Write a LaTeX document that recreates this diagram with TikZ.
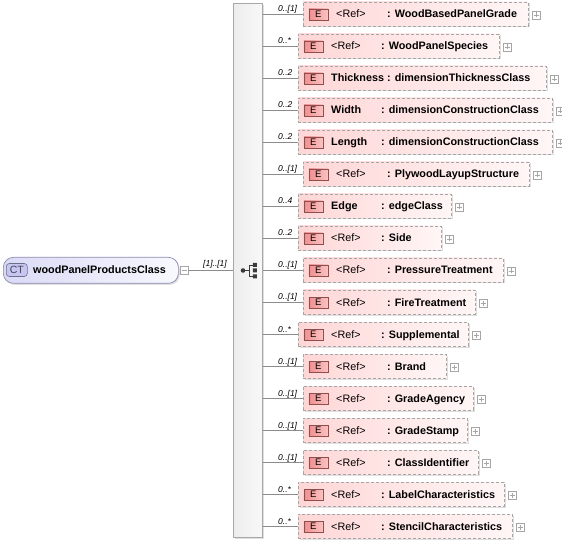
\documentclass[tikz,border=0pt]{standalone}
\usepackage{fontspec}
\setmainfont{Liberation Sans}
\usetikzlibrary{shadows}
\definecolor{connc}{HTML}{8C8C8C}
\definecolor{elborder}{HTML}{A6A6A6}
\definecolor{elleft}{HTML}{FFD6D6}
\definecolor{elright}{HTML}{FFF6F6}
\definecolor{eleft}{HTML}{F08E8E}
\definecolor{eright}{HTML}{FBC2C2}
\definecolor{eborder}{HTML}{8E4E4E}
\definecolor{ctleft}{HTML}{DADAF6}
\definecolor{ctright}{HTML}{F8F8FE}
\definecolor{ctin}{HTML}{C6C6F0}
\definecolor{ctborder}{HTML}{8A8AB0}
\definecolor{seqleft}{HTML}{EDEDED}
\definecolor{seqright}{HTML}{F8F8F8}
\definecolor{seqborder}{HTML}{A8A8A8}
\definecolor{iconc}{HTML}{3A3A3A}
\newcommand\xReg{\fontsize{10.8}{12}\selectfont}
\newcommand\xBold{\fontsize{10.8}{12}\selectfont\bfseries}
\newcommand\xMult{\fontsize{8.5}{10}\selectfont\itshape}
\begin{document}
\begin{tikzpicture}[x=1pt,y=-1pt,
  conn/.style={draw=connc, line width=0.7pt},
  elbox/.style={draw=elborder, line width=0.7pt, dash pattern=on 3pt off 2pt,
    left color=elleft, right color=elright, minimum height=24pt, inner sep=0pt,
    drop shadow={shadow xshift=1.5pt, shadow yshift=-1.5pt, fill=black!25, opacity=0.5}},
  ebox/.style={draw=eborder, line width=0.6pt, left color=eleft, right color=eright,
    minimum width=19pt, minimum height=11pt, inner sep=0pt, font=\fontsize{9.5}{10}\selectfont},
  plusbox/.style={draw=elborder, fill=white, line width=0.5pt, minimum size=8pt, inner sep=0pt,
    path picture={\draw[elborder, line width=0.5pt]
      ([xshift=1.5pt]path picture bounding box.west) -- ([xshift=-1.5pt]path picture bounding box.east)
      ([yshift=-1.5pt]path picture bounding box.north) -- ([yshift=1.5pt]path picture bounding box.south);}},
  minusbox/.style={draw=elborder, fill=white, line width=0.5pt, minimum size=8pt, inner sep=0pt,
    path picture={\draw[elborder, line width=0.5pt]
      ([xshift=1.5pt]path picture bounding box.west) -- ([xshift=-1.5pt]path picture bounding box.east);}},
  multlab/.style={anchor=base west, inner sep=0pt, font=\xMult},
  txt/.style={anchor=base west, inner sep=0pt}
]
\useasboundingbox (0,0) rectangle (562,545);

% sequence compositor panel
\node[draw=seqborder, line width=0.7pt, left color=seqleft, right color=seqright,
  minimum width=29pt, minimum height=534pt, inner sep=0pt, anchor=north west,
  drop shadow={shadow xshift=1.5pt, shadow yshift=-1.5pt, fill=black!25, opacity=0.5}]
  (seq) at (233,3) {};

% sequence icon
\coordinate (icon) at (243,270.5);
\fill[iconc] (icon) circle (2.3pt);
\draw[iconc, line width=0.8pt] (icon) -- (249.3,270.5)
  (249.3,265) -- (249.3,276.5)
  (249.3,265) -- (254,265) (249.3,276.5) -- (254,276.5);
\fill[iconc] (252.8,263) rectangle ++(4,4)
             (252.8,268.5) rectangle ++(4,4)
             (252.8,274.5) rectangle ++(4,4);

% complex type node
\node[draw=ctborder, line width=0.7pt, rounded corners=10pt, left color=ctleft, right color=ctright,
  minimum width=175pt, minimum height=26pt, inner sep=0pt, anchor=north west,
  drop shadow={shadow xshift=1.5pt, shadow yshift=-1.5pt, fill=black!25, opacity=0.5}]
  (ct) at (3,257) {};
\node[draw=ctborder!80!black, line width=0.6pt, fill=ctin, rounded corners=3pt,
  minimum width=21pt, minimum height=13pt, inner sep=0pt, anchor=west,
  font=\fontsize{10.5}{12}\selectfont, text=ctborder!50!black]
  (cti) at (6,270) {CT};
\node[txt, font=\xBold] (ctn) at (33,274) {woodPanelProductsClass};
\node[minusbox] (ctm) at (184,270) {};
\draw[conn] (ctm.east) -- (seq.west |- ctm.east);
\node[multlab] (ctmult) at (203,266.5) {[1]..[1]};

\foreach \i/\l/\r/\c/\nf/\nm/\ty/\m in {
1/303/528/84/\xReg/{<Ref>}/WoodBasedPanelGrade/{0..[1]},
2/298/499/83/\xReg/{<Ref>}/WoodPanelSpecies/{0..*},
3/298/546/89/\xBold/Thickness/dimensionThicknessClass/{0..2},
4/298/552/83/\xBold/Width/dimensionConstructionClass/{0..2},
5/298/552/83/\xBold/Length/dimensionConstructionClass/{0..2},
6/303/529/84/\xReg/{<Ref>}/PlywoodLayupStructure/{0..[1]},
7/298/451/83/\xBold/Edge/edgeClass/{0..4},
8/298/441/83/\xReg/{<Ref>}/Side/{0..2},
9/303/503/84/\xReg/{<Ref>}/PressureTreatment/{0..[1]},
10/303/475/84/\xReg/{<Ref>}/FireTreatment/{0..[1]},
11/298/468/83/\xReg/{<Ref>}/Supplemental/{0..*},
12/303/446/84/\xReg/{<Ref>}/Brand/{0..[1]},
13/303/473/84/\xReg/{<Ref>}/GradeAgency/{0..[1]},
14/303/467/84/\xReg/{<Ref>}/GradeStamp/{0..[1]},
15/303/478/84/\xReg/{<Ref>}/ClassIdentifier/{0..[1]},
16/298/504/83/\xReg/{<Ref>}/LabelCharacteristics/{0..*},
17/298/512/83/\xReg/{<Ref>}/StencilCharacteristics/{0..*}}
{
  \pgfmathsetmacro\y{14+32*(\i-1)}
  \pgfmathsetmacro\w{\r-\l}
  \node[elbox, minimum width=\w pt, anchor=west] (b\i) at (\l,\y) {};
  \node[ebox, anchor=west] (e\i) at ([xshift=5.5pt,yshift=-0.5pt]b\i.west) {E};
  \node[txt, font=\nf] (n\i) at (\l+33,\y+4) {\nm};
  \node[txt, font=\xBold] (t\i) at (\l+\c,\y+4) {: \ty};
  \node[plusbox] (p\i) at (\r+8,\y+1) {};
  \draw[conn] (seq.east |- b\i.west) -- (b\i.west);
  \node[multlab] (m\i) at (278,\y-2) {\m};
}
\end{tikzpicture}
\end{document}
